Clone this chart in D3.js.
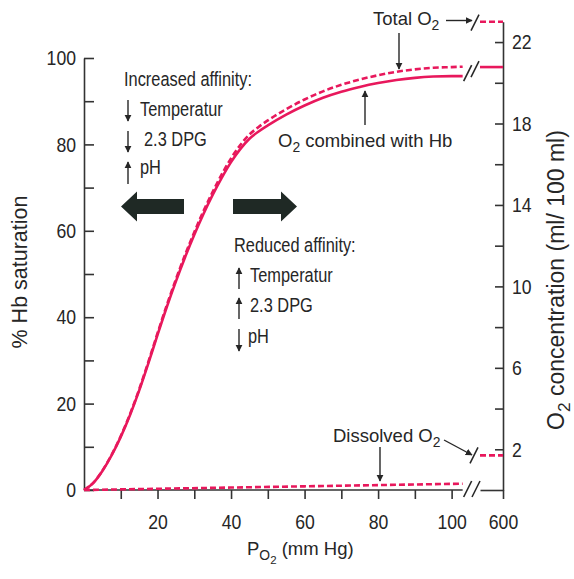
<!DOCTYPE html>
<html>
<head>
<meta charset="utf-8">
<script src="https://cdn.jsdelivr.net/npm/d3@7"></script>
<style>
body { margin: 0; background: #fff; }
svg text { fill: #262626; }
.narrow { font-family: "Liberation Sans Narrow", "Arial Narrow", "Liberation Sans", sans-serif; }
.reg { font-family: "Liberation Sans", Arial, sans-serif; }
</style>
</head>
<body>
<svg id="chart" width="574" height="579"></svg>
<script>
// PO2 (mm Hg), left of the axis break
const po2 = [0, 2.5, 5, 7.5, 10, 12.5, 15, 17.5, 20, 22.5, 25, 27.5, 30, 32.5, 35, 37.5, 40, 42.5, 45, 47.5, 50, 55, 60, 65, 70, 75, 80, 85, 90, 95, 100, 103];
// % Hb saturation (solid line, left axis)
const hbSat = [0, 1.6, 4.4, 8.0, 12.3, 17.3, 23.0, 29.3, 35.9, 42.3, 48.3, 53.9, 59.1, 63.9, 68.3, 72.3, 75.9, 78.9, 81.3, 83.0, 84.4, 86.9, 89.0, 90.8, 92.2, 93.3, 94.2, 94.9, 95.4, 95.7, 95.8, 95.8];
// total O2 (dashed line, right axis, ml/100 ml)
const totalO2 = [0, 0.35, 0.95, 1.73, 2.65, 3.72, 4.94, 6.29, 7.70, 9.07, 10.35, 11.55, 12.66, 13.70, 14.64, 15.51, 16.29, 16.94, 17.46, 17.83, 18.15, 18.70, 19.18, 19.58, 19.90, 20.16, 20.37, 20.54, 20.66, 20.74, 20.77, 20.79];
// dissolved O2 (dashed line near the bottom, ml/100 ml)
const dissolvedPo2 = [0, 20, 40, 60, 80, 103];
const dissolvedO2 = [0, 0.06, 0.12, 0.18, 0.24, 0.31];
// right of the break (PO2 = 600)
const highPo2 = [560, 600];
const hbSatHigh = [97.9, 97.9];
const totalO2High = [23, 23];
const dissolvedO2High = [1.7, 1.7];

const leftTicks = [0, 10, 20, 30, 40, 50, 60, 70, 80, 90, 100];
const rightTicks = [2, 4, 6, 8, 10, 12, 14, 16, 18, 20, 22];
const xTicks = [10, 20, 30, 40, 50, 60, 70, 80, 90, 100];

const pink = '#e8185c';
const ink = '#262626';
const squeeze = 0.84;   // the source type is a condensed face

const svg = d3.select('#chart');

const xLow = d3.scaleLinear().domain([0, 105]).range([84, 470]);
const xHigh = d3.scaleLinear().domain([560, 600]).range([480, 503]);
const yLeft = d3.scaleLinear().domain([0, 100]).range([490, 58]);
const yRight = d3.scaleLinear().domain([0, 23]).range([490, 21.7]);

// arrow head marker
svg.append('defs').append('marker')
  .attr('id', 'head')
  .attr('viewBox', '0 0 10 10')
  .attr('refX', 9).attr('refY', 5)
  .attr('markerWidth', 7).attr('markerHeight', 8)
  .attr('markerUnits', 'userSpaceOnUse')
  .attr('orient', 'auto')
  .append('path').attr('d', 'M0,0L10,5L0,10z').attr('fill', ink);

// ---- axes
const styleAxis = g => {
  g.selectAll('path, line').attr('stroke', '#333').attr('stroke-width', 1.6);
  g.selectAll('text')
    .attr('class', 'narrow').attr('font-size', 21).attr('fill', ink)
    .each(function () {
      const t = d3.select(this);
      const x = +t.attr('x') || 0, y = +t.attr('y') || 0;
      t.attr('x', null).attr('y', null)
        .attr('transform', `translate(${x},${y}) scale(${squeeze},1)`);
    });
};

svg.append('g')
  .attr('transform', `translate(${xLow(0)},0)`)
  .call(d3.axisLeft(yLeft).tickValues(leftTicks).tickSize(-10).tickSizeOuter(0).tickPadding(8)
    .tickFormat(d => d % 20 === 0 ? d : ''))
  .call(styleAxis);

svg.append('g')
  .attr('transform', `translate(${xHigh(600)},0)`)
  .call(d3.axisRight(yRight).tickValues(rightTicks).tickSize(-8).tickSizeOuter(0).tickPadding(9)
    .tickFormat(d => (d - 2) % 4 === 0 ? d : ''))
  .call(styleAxis);

const xAxisLow = svg.append('g')
  .attr('transform', `translate(0,${yLeft(0)})`)
  .call(d3.axisBottom(xLow).tickValues(xTicks).tickSize(9).tickPadding(15)
    .tickFormat(d => d % 20 === 0 ? d : ''));
xAxisLow.select('.domain').remove();
xAxisLow.append('line')
  .attr('x1', xLow(0)).attr('x2', xLow(103)).attr('y1', 0).attr('y2', 0);
xAxisLow.call(styleAxis);

svg.append('g')
  .attr('transform', `translate(0,${yLeft(0)})`)
  .call(d3.axisBottom(xHigh).tickValues([600]).tickSize(9).tickSizeOuter(0).tickPadding(15))
  .call(styleAxis);

// ---- curves
const line = d3.line().curve(d3.curveMonotoneX);

svg.append('path')
  .attr('d', line(po2.map((p, i) => [xLow(p), yLeft(hbSat[i])])))
  .attr('fill', 'none').attr('stroke', pink).attr('stroke-width', 2.6);

svg.append('path')
  .attr('d', line(highPo2.map((p, i) => [xHigh(p), yLeft(hbSatHigh[i])])))
  .attr('fill', 'none').attr('stroke', pink).attr('stroke-width', 2.6);

const dashed = (pts) => svg.append('path')
  .attr('d', line(pts))
  .attr('fill', 'none').attr('stroke', pink).attr('stroke-width', 2.6)
  .attr('stroke-dasharray', '6,3');

dashed(po2.map((p, i) => [xLow(p), yRight(totalO2[i])]));
dashed(highPo2.map((p, i) => [xHigh(p), yRight(totalO2High[i])]));
dashed(dissolvedPo2.map((p, i) => [xLow(p), yRight(dissolvedO2[i])]));
dashed(highPo2.map((p, i) => [xHigh(p), yRight(dissolvedO2High[i])]));

// ---- break marks
const slash = (cx, cy, color) => svg.append('line')
  .attr('x1', cx - 4).attr('y1', cy + 8).attr('x2', cx + 4).attr('y2', cy - 8)
  .attr('stroke', color).attr('stroke-width', 1.6);

const hbEnd = yLeft(hbSat[hbSat.length - 1]);
const hbHigh = yLeft(hbSatHigh[0]);
slash(xLow(103) + 5, hbEnd - 3, ink);
slash(xHigh(560) - 5, hbHigh + 2, ink);
slash(xHigh(560) - 5, yRight(totalO2High[0]) + 1, ink);
slash(xHigh(560) - 6, yRight(dissolvedO2High[0]), ink);
slash(xLow(103) + 5, yLeft(0) - 1, ink);
slash(xHigh(560) - 4, yLeft(0) - 1, ink);

// ---- text helpers
function rich(x, y, parts, size, cls, anchor, rotate) {
  let tf = `translate(${x},${y})` + (rotate ? ` rotate(${rotate})` : '');
  if (cls === 'narrow') tf += ` scale(${squeeze},1)`;
  const t = svg.append('text')
    .attr('class', cls)
    .attr('font-size', size)
    .attr('text-anchor', anchor || 'start')
    .attr('transform', tf);
  let shift = 0;
  parts.forEach(p => {
    const s = (p.sub || 0) * size * 0.25;
    t.append('tspan')
      .attr('dy', s - shift)
      .attr('font-size', p.sub ? size * (p.sub > 1 ? 0.62 : 0.75) : size)
      .text(p.t);
    shift = s;
  });
  return t;
}

const arrow = (x1, y1, x2, y2) => svg.append('line')
  .attr('x1', x1).attr('y1', y1).attr('x2', x2).attr('y2', y2)
  .attr('stroke', ink).attr('stroke-width', 1.4)
  .attr('marker-end', 'url(#head)');

// axis titles
rich(27, 272, [{ t: '% Hb saturation' }], 21.5, 'reg', 'middle', -90);
rich(564, 280, [{ t: 'O' }, { t: '2', sub: 1 }, { t: ' concentration (ml/ 100 ml)' }], 23, 'reg', 'middle', -90);
rich(247, 555, [{ t: 'P' }, { t: 'O', sub: 1 }, { t: '2', sub: 2 }, { t: ' (mm Hg)' }], 18.5, 'reg', 'start');

// affinity notes
rich(124, 86, [{ t: 'Increased affinity:' }], 19.5, 'narrow');
rich(140, 116, [{ t: 'Temperatur' }], 19.5, 'narrow');
rich(144, 146, [{ t: '2.3 DPG' }], 19.5, 'narrow');
rich(140, 174, [{ t: 'pH' }], 19.5, 'narrow');
arrow(128, 100, 128, 121);
arrow(128, 131, 128, 152);
arrow(128, 184, 128, 162);

rich(234, 252, [{ t: 'Reduced affinity:' }], 19.5, 'narrow');
rich(250, 282, [{ t: 'Temperatur' }], 19.5, 'narrow');
rich(250, 312, [{ t: '2.3 DPG' }], 19.5, 'narrow');
rich(248, 343, [{ t: 'pH' }], 19.5, 'narrow');
arrow(239, 289, 239, 268);
arrow(239, 319, 239, 298);
arrow(239, 329, 239, 351);

// shift arrows
const bigArrow = (x0, x1, cy) => {
  const dir = Math.sign(x1 - x0), hb = x1 - dir * 16;
  svg.append('path')
    .attr('d', `M${x0},${cy - 7.5}L${hb},${cy - 7.5}L${hb},${cy - 15}L${x1},${cy}L${hb},${cy + 15}L${hb},${cy + 7.5}L${x0},${cy + 7.5}Z`)
    .attr('fill', '#1f2925');
};
bigArrow(184, 121, 206.5);
bigArrow(233, 297, 206.5);

// curve labels
rich(373, 25, [{ t: 'Total O' }, { t: '2', sub: 1 }], 18.5, 'reg');
arrow(446, 20.5, 472, 20.5);
arrow(399, 33, 399, 69);

rich(278, 147, [{ t: 'O' }, { t: '2', sub: 1 }, { t: ' combined with Hb' }], 18.5, 'reg');
arrow(365, 125, 365, 91);

rich(333, 442, [{ t: 'Dissolved O' }, { t: '2', sub: 1 }], 18.5, 'reg');
arrow(380, 447, 380, 481);
arrow(444, 440, 472, 455);
</script>
</body>
</html>
